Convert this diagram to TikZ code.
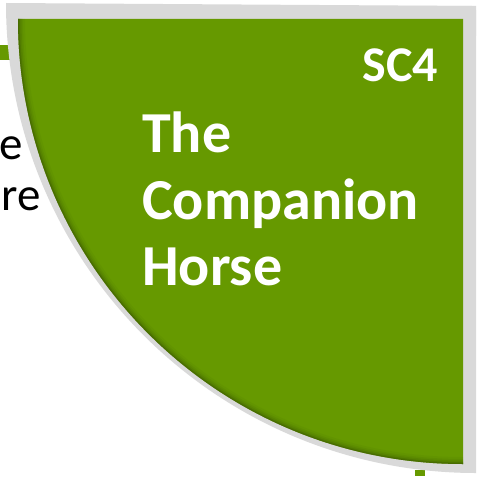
\documentclass[tikz,border=0pt]{standalone}
\usepackage{fontspec}
\setmainfont{Carlito}
\definecolor{leaf}{HTML}{669900}
\definecolor{leafdark}{HTML}{3F5F00}
\definecolor{rim}{HTML}{D9D9D9}
\begin{document}
\begin{tikzpicture}[x=1pt,y=-1pt,
  titletext/.style={text=white,font=\bfseries\fontsize{58}{66}\selectfont,anchor=base west,inner sep=0pt},
  tagtext/.style={text=white,font=\bfseries\fontsize{50}{55}\selectfont,anchor=base east,inner sep=0pt},
  backtext/.style={text=black,font=\fontsize{47}{52}\selectfont,anchor=base east,inner sep=0pt}]
\useasboundingbox (0,0) rectangle (481,476);
% background pieces
\fill[leaf] (0,45) rectangle (14,60);
\fill[leaf] (415,470) rectangle (425,476);
\node[backtext] (e1) at (23,159) {e};
\node[backtext] (e2) at (41,210) {re};
% outer rim
\fill[rim,rounded corners=4pt] (20,6) -- (476,6) -- (476,40) -- (470,40) -- (20,12) -- cycle;
\fill[rim] (476,6) -- (476,473) arc[start angle=90,end angle=180,radius=470] -- cycle;
% green quarter
\begin{scope}
\clip (463,19) -- (463,464) arc[start angle=90,end angle=180,radius=445] -- cycle;
\fill[leaf] (463,19) -- (463,464) arc[start angle=90,end angle=180,radius=445] -- cycle;
\foreach \w/\o in {14/0.08,10/0.12,7/0.18,4/0.3,2/0.45}
  \draw[leafdark,line width=\w pt,opacity=\o] (463,464) arc[start angle=90,end angle=180,radius=445];
\end{scope}
\node[tagtext] (tag) at (438,82) {SC4};
\node[titletext] (t1) at (142,152) {The};
\node[titletext] (t2) at (142,219) {Companion};
\node[titletext] (t3) at (142,285) {Horse};
\end{tikzpicture}
\end{document}
